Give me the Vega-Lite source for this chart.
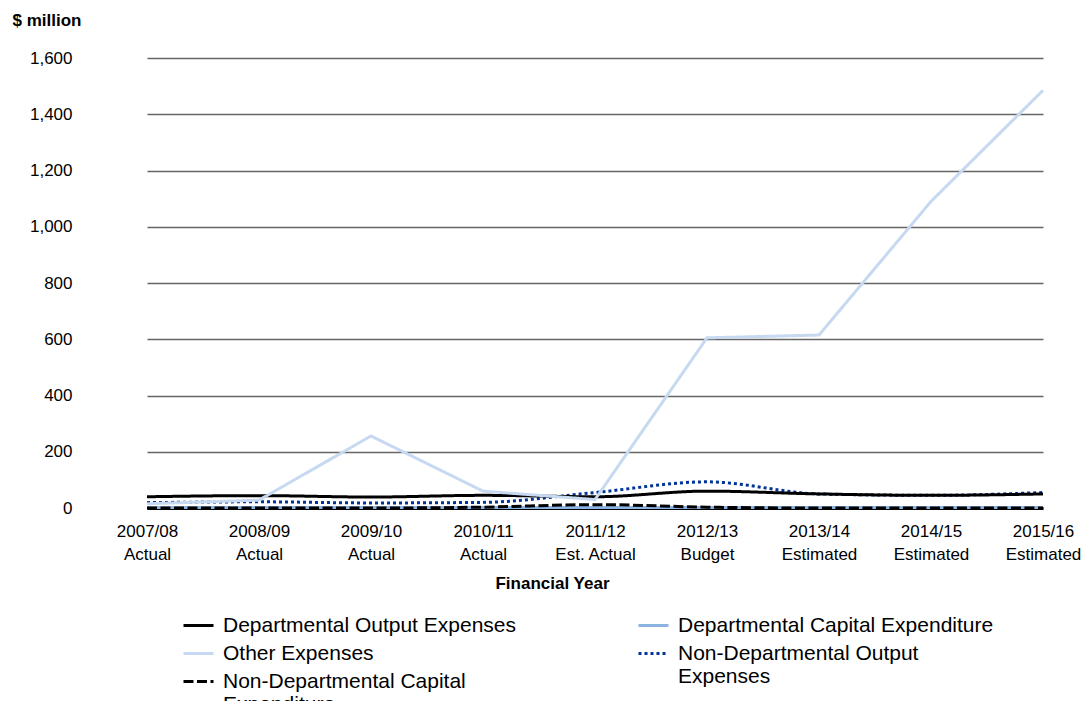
{
  "$schema": "https://vega.github.io/schema/vega-lite/v6.json",
  "width": 996,
  "height": 450,
  "autosize": {"type": "none"},
  "padding": {"left": 91, "top": 58, "right": 0, "bottom": 193},
  "background": "white",
  "config": {
    "font": "Liberation Sans",
    "view": {"stroke": null},
    "legend": {
      "title": null,
      "orient": "none",
      "symbolType": "M-1,0H1",
      "symbolSize": 900,
      "symbolStrokeWidth": 3,
      "labelFontSize": 21,
      "labelColor": "black",
      "labelOffset": 8,
      "labelLimit": 500,
      "labelLineHeight": 23
    }
  },
  "data": {
    "values": [
      {"year": "2007/08|Actual", "series": "Departmental Output Expenses", "value": 40},
      {"year": "2008/09|Actual", "series": "Departmental Output Expenses", "value": 44},
      {"year": "2009/10|Actual", "series": "Departmental Output Expenses", "value": 39},
      {"year": "2010/11|Actual", "series": "Departmental Output Expenses", "value": 45},
      {"year": "2011/12|Est. Actual", "series": "Departmental Output Expenses", "value": 40},
      {"year": "2012/13|Budget", "series": "Departmental Output Expenses", "value": 60},
      {"year": "2013/14|Estimated", "series": "Departmental Output Expenses", "value": 50},
      {"year": "2014/15|Estimated", "series": "Departmental Output Expenses", "value": 45},
      {"year": "2015/16|Estimated", "series": "Departmental Output Expenses", "value": 50},

      {"year": "2007/08|Actual", "series": "Departmental Capital Expenditure", "value": 2},
      {"year": "2008/09|Actual", "series": "Departmental Capital Expenditure", "value": 2},
      {"year": "2009/10|Actual", "series": "Departmental Capital Expenditure", "value": 2},
      {"year": "2010/11|Actual", "series": "Departmental Capital Expenditure", "value": 2},
      {"year": "2011/12|Est. Actual", "series": "Departmental Capital Expenditure", "value": 2},
      {"year": "2012/13|Budget", "series": "Departmental Capital Expenditure", "value": 2},
      {"year": "2013/14|Estimated", "series": "Departmental Capital Expenditure", "value": 2},
      {"year": "2014/15|Estimated", "series": "Departmental Capital Expenditure", "value": 2},
      {"year": "2015/16|Estimated", "series": "Departmental Capital Expenditure", "value": 2},

      {"year": "2007/08|Actual", "series": "Other Expenses", "value": 15},
      {"year": "2008/09|Actual", "series": "Other Expenses", "value": 28},
      {"year": "2009/10|Actual", "series": "Other Expenses", "value": 256},
      {"year": "2010/11|Actual", "series": "Other Expenses", "value": 60},
      {"year": "2011/12|Est. Actual", "series": "Other Expenses", "value": 30},
      {"year": "2012/13|Budget", "series": "Other Expenses", "value": 605},
      {"year": "2013/14|Estimated", "series": "Other Expenses", "value": 615},
      {"year": "2014/15|Estimated", "series": "Other Expenses", "value": 1090},
      {"year": "2015/16|Estimated", "series": "Other Expenses", "value": 1485},

      {"year": "2007/08|Actual", "series": "Non-Departmental Output Expenses", "value": 19},
      {"year": "2008/09|Actual", "series": "Non-Departmental Output Expenses", "value": 22},
      {"year": "2009/10|Actual", "series": "Non-Departmental Output Expenses", "value": 18},
      {"year": "2010/11|Actual", "series": "Non-Departmental Output Expenses", "value": 20},
      {"year": "2011/12|Est. Actual", "series": "Non-Departmental Output Expenses", "value": 55},
      {"year": "2012/13|Budget", "series": "Non-Departmental Output Expenses", "value": 93},
      {"year": "2013/14|Estimated", "series": "Non-Departmental Output Expenses", "value": 50},
      {"year": "2014/15|Estimated", "series": "Non-Departmental Output Expenses", "value": 45},
      {"year": "2015/16|Estimated", "series": "Non-Departmental Output Expenses", "value": 55},

      {"year": "2007/08|Actual", "series": "Non-Departmental Capital Expenditure", "value": 0},
      {"year": "2008/09|Actual", "series": "Non-Departmental Capital Expenditure", "value": 0},
      {"year": "2009/10|Actual", "series": "Non-Departmental Capital Expenditure", "value": 0},
      {"year": "2010/11|Actual", "series": "Non-Departmental Capital Expenditure", "value": 3},
      {"year": "2011/12|Est. Actual", "series": "Non-Departmental Capital Expenditure", "value": 12},
      {"year": "2012/13|Budget", "series": "Non-Departmental Capital Expenditure", "value": 3},
      {"year": "2013/14|Estimated", "series": "Non-Departmental Capital Expenditure", "value": 0},
      {"year": "2014/15|Estimated", "series": "Non-Departmental Capital Expenditure", "value": 0},
      {"year": "2015/16|Estimated", "series": "Non-Departmental Capital Expenditure", "value": 0}
    ]
  },
  "encoding": {
    "x": {
      "field": "year",
      "type": "ordinal",
      "sort": null,
      "scale": {"type": "point", "range": [56, 952], "padding": 0},
      "axis": {
        "title": "Financial Year",
        "titleFontSize": 17,
        "titleFontWeight": "bold",
        "titleColor": "black",
        "titleX": 461,
        "titleY": 75,
        "titleBaseline": "middle",
        "labelExpr": "split(datum.label, '|')",
        "labelFontSize": 17,
        "labelColor": "black",
        "labelLineHeight": 23,
        "labelPadding": 15,
        "labelAngle": 0,
        "ticks": false,
        "domainColor": "black",
        "domainWidth": 3,
        "grid": false
      }
    },
    "y": {
      "field": "value",
      "type": "quantitative",
      "scale": {"domain": [0, 1600], "nice": false},
      "axis": {
        "title": "$ million",
        "titleAngle": 0,
        "titleAlign": "left",
        "titleBaseline": "middle",
        "titleX": -79,
        "titleY": -38,
        "titleFontSize": 17,
        "titleFontWeight": "bold",
        "titleColor": "black",
        "values": [0, 200, 400, 600, 800, 1000, 1200, 1400, 1600],
        "format": ",.0f",
        "labelFontSize": 17,
        "labelColor": "black",
        "labelPadding": 19,
        "ticks": false,
        "domain": false,
        "gridColor": "#666666",
        "gridWidth": 1.5
      }
    }
  },
  "layer": [
    {
      "transform": [{"filter": "datum.series == 'Departmental Capital Expenditure' || datum.series == 'Non-Departmental Output Expenses'"}],
      "mark": {"type": "line", "interpolate": "monotone", "strokeWidth": 3},
      "encoding": {
        "color": {
          "field": "series",
          "type": "nominal",
          "scale": {
            "domain": ["Departmental Capital Expenditure", "Non-Departmental Output Expenses"],
            "range": ["#8db3e2", "#003399"]
          },
          "legend": {
            "legendX": 546,
            "legendY": 551,
            "columns": 1,
            "rowPadding": 1,
            "labelExpr": "datum.label == 'Non-Departmental Output Expenses' ? ['Non-Departmental Output', 'Expenses'] : datum.label"
          }
        },
        "strokeDash": {
          "field": "series",
          "type": "nominal",
          "scale": {
            "domain": ["Departmental Capital Expenditure", "Non-Departmental Output Expenses"],
            "range": [[1, 0], [3, 3]]
          },
          "legend": null
        }
      }
    },
    {
      "encoding": {
        "color": {
          "field": "series",
          "type": "nominal",
          "scale": {
            "domain": ["Departmental Output Expenses", "Other Expenses", "Non-Departmental Capital Expenditure"],
            "range": ["#000000", "#c6d9f1", "#000000"]
          },
          "legend": {
            "legendX": 91,
            "legendY": 551,
            "columns": 1,
            "rowPadding": 1,
            "labelExpr": "datum.label == 'Non-Departmental Capital Expenditure' ? ['Non-Departmental Capital', 'Expenditure'] : datum.label"
          }
        },
        "strokeDash": {
          "field": "series",
          "type": "nominal",
          "scale": {
            "domain": ["Departmental Output Expenses", "Other Expenses", "Non-Departmental Capital Expenditure"],
            "range": [[1, 0], [1, 0], [10, 3.5]]
          },
          "legend": null
        }
      },
      "layer": [
        {
          "transform": [{"filter": "datum.series == 'Departmental Output Expenses' || datum.series == 'Non-Departmental Capital Expenditure'"}],
          "mark": {"type": "line", "interpolate": "monotone", "strokeWidth": 3}
        },
        {
          "transform": [{"filter": "datum.series == 'Other Expenses'"}],
          "mark": {"type": "line", "interpolate": "linear", "strokeWidth": 3}
        }
      ]
    }
  ],
  "resolve": {
    "scale": {"color": "independent", "strokeDash": "independent"},
    "legend": {"color": "independent", "strokeDash": "independent"}
  }
}
